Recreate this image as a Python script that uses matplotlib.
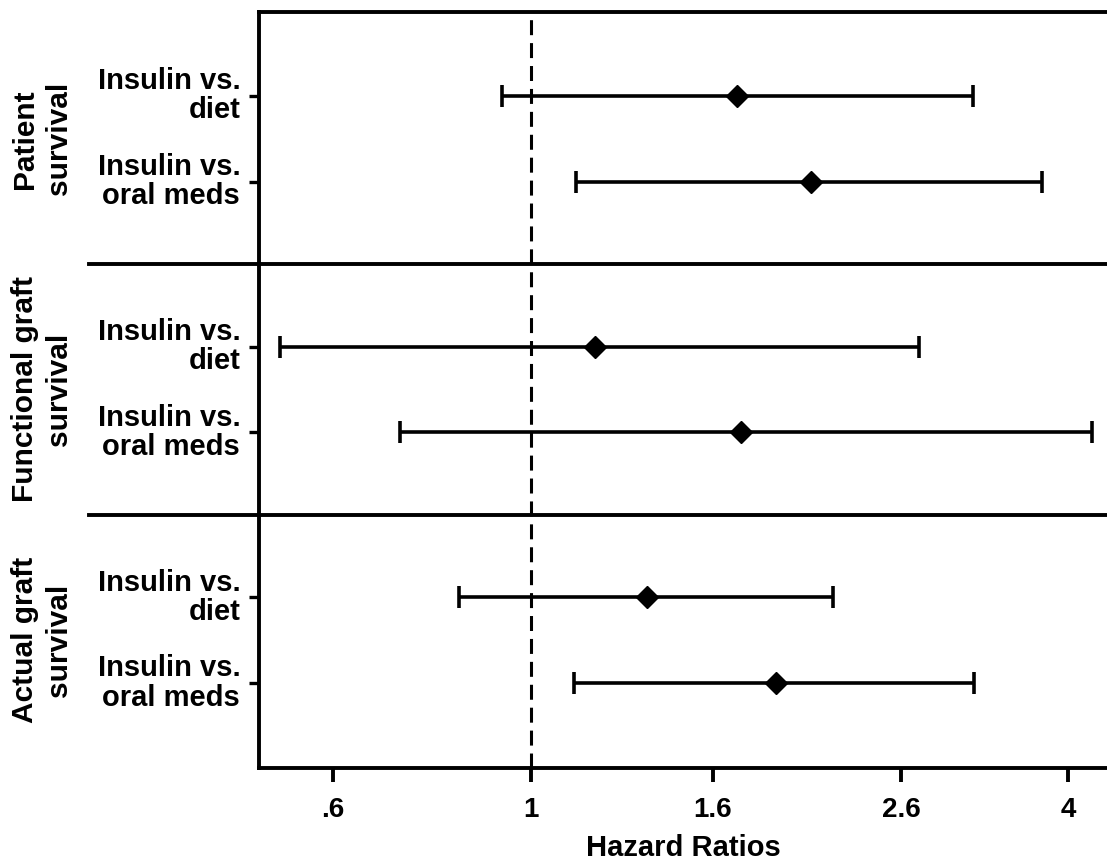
import numpy as np
import matplotlib
matplotlib.use("Agg")
import matplotlib.pyplot as plt
import matplotlib.transforms as mtransforms

plt.rcParams['font.family'] = ['Liberation Sans', 'DejaVu Sans']
plt.rcParams['font.weight'] = 'bold'

# Hazard ratios with 95% CI
groups = ["Patient\nsurvival", "Functional graft\nsurvival", "Actual graft\nsurvival"]
comparisons = ["Insulin vs.\ndiet", "Insulin vs.\noral meds"]
hr = [1.70, 2.06, 1.18, 1.72, 1.35, 1.88]
ci_low = [0.928, 1.124, 0.523, 0.714, 0.831, 1.118]
ci_high = [3.13, 3.74, 2.72, 4.25, 2.18, 3.14]
xticks = [0.6, 1, 1.6, 2.6, 4]
xtick_labels = [".6", "1", "1.6", "2.6", "4"]

GROUP_STRIDE = 2.92

n_rows = len(comparisons)
ypos = []
for g in range(len(groups)):
	for r in range(n_rows):
		ypos.append(g * GROUP_STRIDE + r)
ypos = np.array(ypos)

fig = plt.figure(figsize=(11.07, 8.61), dpi=100)
ax = fig.add_axes([259/1107, 1 - 768/861, 848/1107, 756/861])

hr = np.array(hr)
err = [hr - np.array(ci_low), np.array(ci_high) - hr]
ax.errorbar(hr, ypos, xerr=err, fmt='none', ecolor='black', elinewidth=2.6,
	capsize=8, capthick=2.6, zorder=3)
ax.plot(hr, ypos, linestyle='none', marker='D', markersize=11, color='black', zorder=4)

ax.axvline(1, color='black', lw=2.2, linestyle=(0, (4.9, 2.6)), zorder=2)

ax.set_xscale('log')
ax.set_xlim(0.496, 4.42)
ax.set_ylim(ypos[-1] + 0.99, ypos[0] - 0.977)

ax.set_xticks(xticks)
ax.set_xticklabels(xtick_labels, fontsize=20, fontweight='bold')
ax.xaxis.set_minor_locator(matplotlib.ticker.NullLocator())
ax.set_yticks(ypos)
ax.set_yticklabels(comparisons * len(groups), fontsize=21, fontweight='bold')
for lab in ax.get_yticklabels():
	lab.set_verticalalignment('center')
	lab.set_multialignment('right')
	lab.set_linespacing(1.05)

ax.tick_params(axis='x', length=10, width=2.8, pad=11)
ax.tick_params(axis='y', length=7.5, width=2.4, pad=6)
ax.set_xlabel("Hazard Ratios", fontsize=21, fontweight='bold', labelpad=8)

for side in ['left', 'bottom', 'top']:
	ax.spines[side].set_linewidth(2.8)
ax.spines['right'].set_visible(False)

# group separators extend into the label area
for g in range(1, len(groups)):
	ysep = (ypos[g * n_rows - 1] + ypos[g * n_rows]) / 2
	ax.axhline(ysep, xmin=-0.2005, xmax=1, color='black', lw=2.8, clip_on=False)

trans = mtransforms.blended_transform_factory(ax.transAxes, ax.transData)
for g, name in enumerate(groups):
	ymid = ypos[g * n_rows:(g + 1) * n_rows].mean()
	ax.text(-0.256, ymid, name, transform=trans, rotation=90, ha='center', va='center',
		multialignment='center', fontsize=21.5, fontweight='bold', linespacing=1.25)

fig.savefig("out.png", dpi=100)
